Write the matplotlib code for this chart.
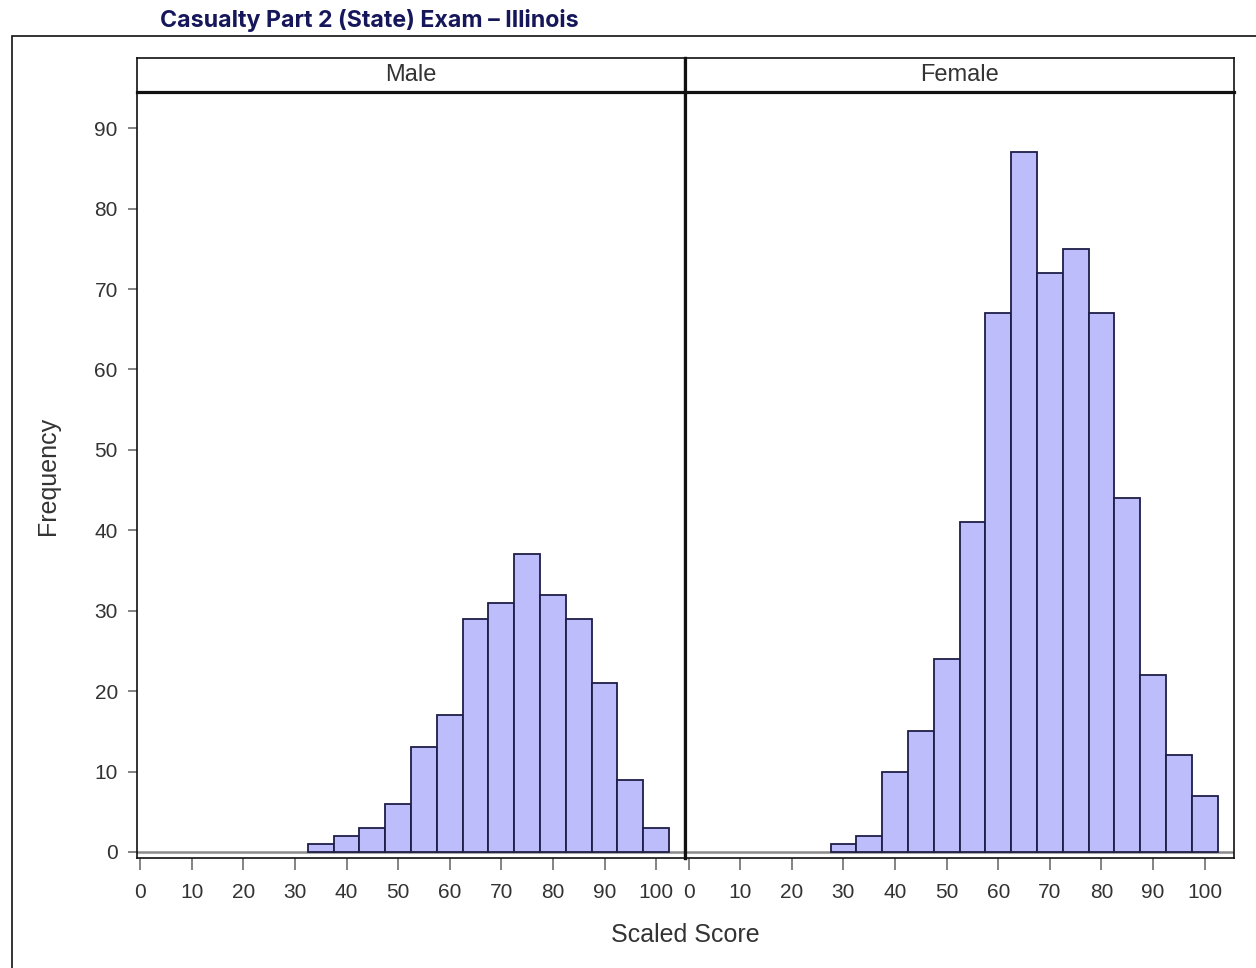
import matplotlib
matplotlib.use("Agg")
import matplotlib.pyplot as plt
from matplotlib.patches import Rectangle

# ---- data ----
title = "Casualty Part 2 (State) Exam – Illinois"
panels = ["Male", "Female"]
male_centers = [35, 40, 45, 50, 55, 60, 65, 70, 75, 80, 85, 90, 95, 100]
male_counts = [1, 2, 3, 6, 13, 17, 29, 31, 37, 32, 29, 21, 9, 3]
female_centers = [30, 35, 40, 45, 50, 55, 60, 65, 70, 75, 80, 85, 90, 95, 100]
female_counts = [1, 2, 10, 15, 24, 41, 67, 87, 72, 75, 67, 44, 22, 12, 7]
bin_width = 5
x_ticks = [0, 10, 20, 30, 40, 50, 60, 70, 80, 90, 100]
y_ticks = [0, 10, 20, 30, 40, 50, 60, 70, 80, 90]
x_label = "Scaled Score"
y_label = "Frequency"

W, H = 1256, 968
fig = plt.figure(figsize=(W / 100, H / 100), dpi=100)
fig.patch.set_facecolor("white")

def rect(l, t, r, b):
    return [l / W, 1 - b / H, (r - l) / W, (b - t) / H]

FONT = ["Liberation Sans", "DejaVu Sans"]
FILL = "#bdbdfc"
EDGE = "#1e1e48"
TICKC = "#7a7a7a"
TXT = "#333333"

# outer frame
fig.patches.append(Rectangle((11.5 / W, -0.01), (W + 10) / W, 1 - 35.5 / H + 0.01,
                             transform=fig.transFigure, fill=False,
                             edgecolor="#111111", lw=1.2, zorder=0))

# title
fig.text(160 / W, 1 - 21 / H, title, fontsize=16.7, fontweight="bold",
         color="#16165a", family=["Inter", "DejaVu Sans"], va="center", ha="left")

panel_px = [(136.5, 685), (685, 1233.5)]
data = [(male_centers, male_counts), (female_centers, female_counts)]
top, bottom = 92, 858
head_top = 57.5

for i, ((l, r), (cen, cnt), name) in enumerate(zip(panel_px, data, panels)):
    ax = fig.add_axes(rect(l, top, r, bottom))
    ax.axhline(0, color="#8c8c8c", lw=1.8, zorder=1)
    ax.bar(cen, cnt, width=bin_width, color=FILL, edgecolor=EDGE, lw=1.3, zorder=2)
    ax.set_xlim(-0.7, 105.6)
    ax.set_ylim(-0.75, 94.5)
    ax.set_xticks(x_ticks)
    ax.set_xticklabels([str(t) for t in x_ticks], fontsize=15, color=TXT, family=FONT)
    ax.tick_params(axis="x", direction="out", length=8.6, width=1.3, color=TICKC, pad=9.5)
    if i == 0:
        ax.set_yticks(y_ticks)
        ax.set_yticklabels([str(t) for t in y_ticks], fontsize=15, color=TXT, family=FONT)
        ax.tick_params(axis="y", direction="out", length=6.5, width=1.3, color=TICKC, pad=7)
    else:
        ax.set_yticks([])
    for s in ax.spines.values():
        s.set_color("#111111")
        s.set_linewidth(1.2)
    if i == 0:
        ax.spines["right"].set_linewidth(2.3)
    else:
        ax.spines["left"].set_linewidth(2.3)

    # header strip
    hx = fig.add_axes(rect(l, head_top, r, top))
    hx.set_xticks([]); hx.set_yticks([])
    for s in hx.spines.values():
        s.set_color("#111111")
        s.set_linewidth(1.2)
    hx.spines["bottom"].set_linewidth(2.3)
    if i == 0:
        hx.spines["right"].set_linewidth(2.3)
    else:
        hx.spines["left"].set_linewidth(2.3)
    hx.text(0.5, 0.5, name, transform=hx.transAxes, ha="center", va="center",
            fontsize=17, color=TXT, family=FONT)

fig.text(685 / W, 1 - 935 / H, x_label, ha="center", va="center",
         fontsize=18, color=TXT, family=FONT)
fig.text(48 / W, 1 - 476 / H, y_label, ha="center", va="center", rotation=90,
         fontsize=18, color=TXT, family=FONT)

fig.savefig("out.png", dpi=100, facecolor="white")
